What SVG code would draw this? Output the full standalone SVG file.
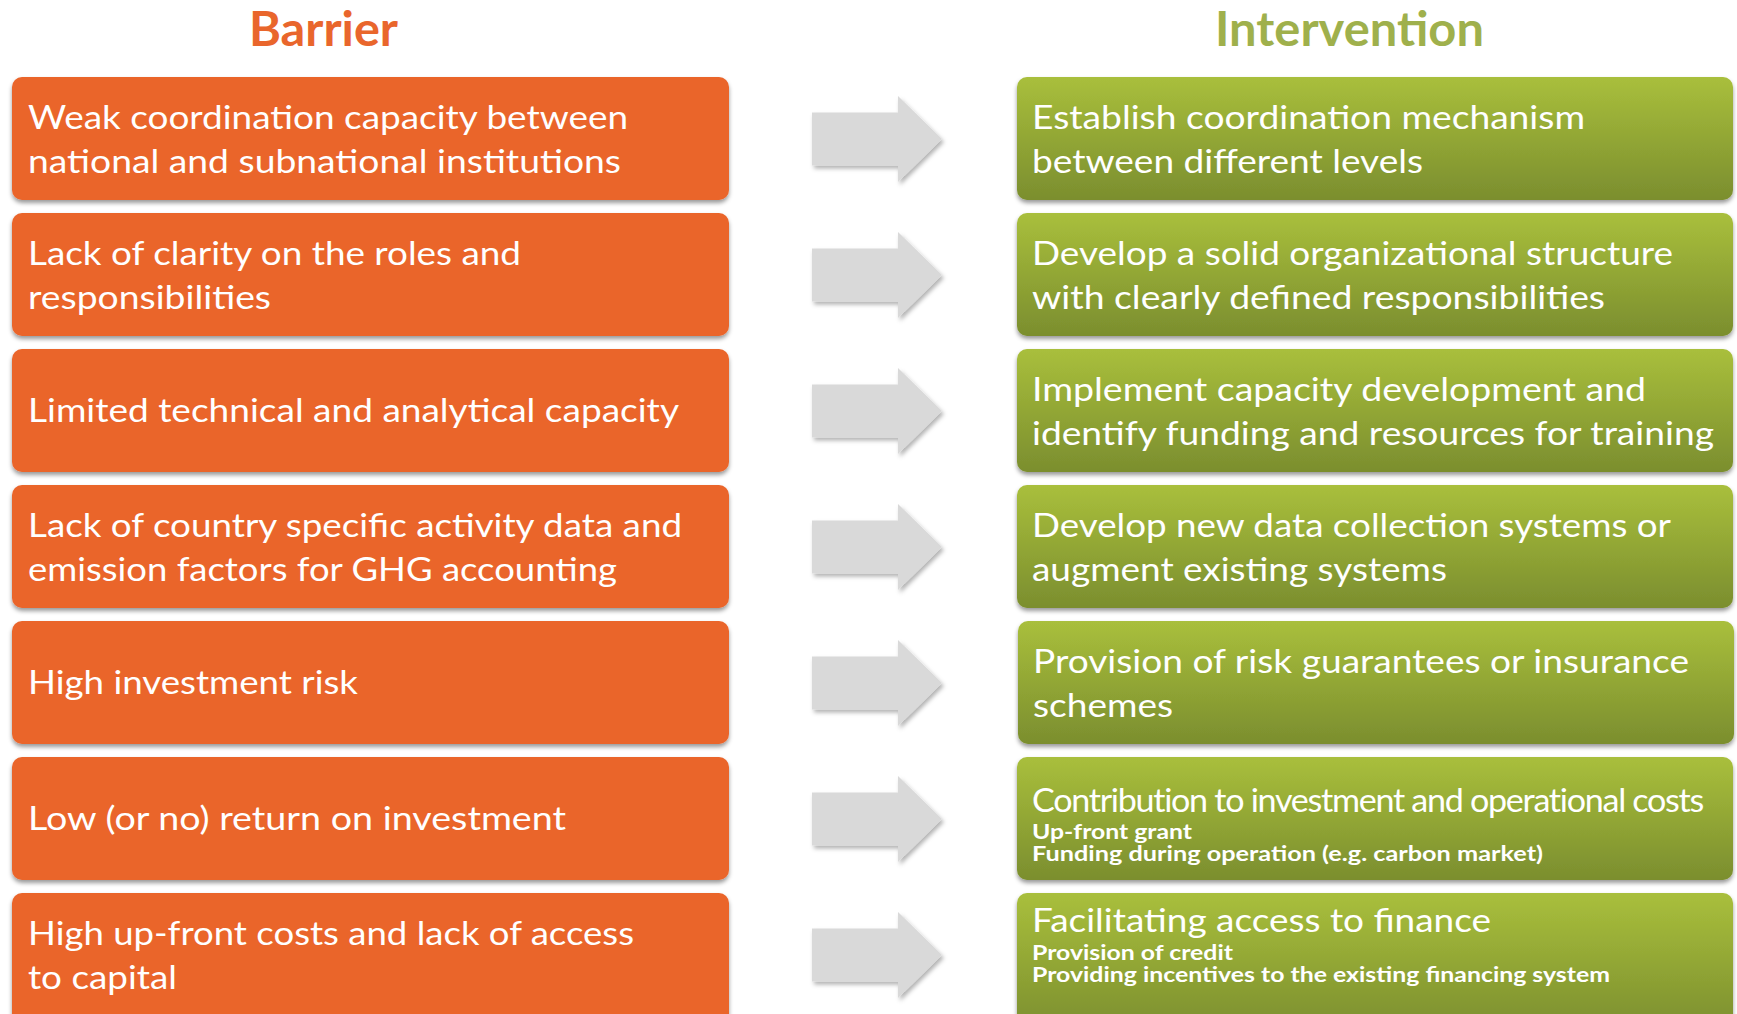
<svg xmlns="http://www.w3.org/2000/svg" width="1737" height="1014" viewBox="0 0 1737 1014">
<style>
.t{font-family:Lato,"Open Sans","Liberation Sans",sans-serif;font-size:33px;fill:#fff}
.c{font-family:Lato,"Open Sans","Liberation Sans",sans-serif;font-size:32px;letter-spacing:-1.2px;fill:#fff}
.s{font-family:Lato,"Open Sans","Liberation Sans",sans-serif;font-size:20px;font-weight:bold;fill:#fff}
.h{font-family:Lato,"Open Sans","Liberation Sans",sans-serif;font-size:47px;font-weight:bold;text-anchor:middle}
.ob{fill:#EA652B;filter:url(#sh)}
.gb{fill:url(#gg);filter:url(#sh)}
.ar{fill:#D9D9D9;filter:url(#ash)}
</style>
<defs>
<linearGradient id="gg" x1="0" y1="0" x2="0" y2="1">
<stop offset="0" stop-color="#A9BF3C"/>
<stop offset="1" stop-color="#7B8E2E"/>
</linearGradient>
<filter id="sh" x="-5%" y="-10%" width="110%" height="125%">
<feDropShadow dx="0" dy="3" stdDeviation="2.2" flood-color="#000" flood-opacity="0.4"/>
</filter>
<filter id="ash" x="-10%" y="-10%" width="125%" height="130%">
<feDropShadow dx="2" dy="3" stdDeviation="2" flood-color="#000" flood-opacity="0.3"/>
</filter>
<polygon id="arrow" points="812,-26.5 898,-26.5 898,-43 942,0 898,43 898,26.5 812,26.5"/>
</defs>
<rect width="1737" height="1014" fill="#fff"/>

<text class="h" x="323.5" y="46" fill="#E9662C" textLength="149" lengthAdjust="spacingAndGlyphs">Barrier</text>
<text class="h" x="1349.5" y="46" fill="#9FB04C" textLength="269" lengthAdjust="spacingAndGlyphs">Intervention</text>

<g id="connectors">
<use href="#arrow" class="ar" y="139"/>
<use href="#arrow" class="ar" y="275"/>
<use href="#arrow" class="ar" y="411"/>
<use href="#arrow" class="ar" y="547"/>
<use href="#arrow" class="ar" y="683"/>
<use href="#arrow" class="ar" y="819"/>
<use href="#arrow" class="ar" y="955"/>
</g>

<g id="barrier1"><rect class="ob" x="12" y="77" width="717" height="123" rx="10"/>
<text class="t" x="28" y="129" textLength="600" lengthAdjust="spacingAndGlyphs">Weak coordination capacity between</text>
<text class="t" x="28" y="172.5" textLength="593" lengthAdjust="spacingAndGlyphs">national and subnational institutions</text></g>

<g id="barrier2"><rect class="ob" x="12" y="213" width="717" height="123" rx="10"/>
<text class="t" x="28" y="265" textLength="493" lengthAdjust="spacingAndGlyphs">Lack of clarity on the roles and</text>
<text class="t" x="28" y="308.5" textLength="243" lengthAdjust="spacingAndGlyphs">responsibilities</text></g>

<g id="barrier3"><rect class="ob" x="12" y="349" width="717" height="123" rx="10"/>
<text class="t" x="28" y="422" textLength="651" lengthAdjust="spacingAndGlyphs">Limited technical and analytical capacity</text></g>

<g id="barrier4"><rect class="ob" x="12" y="485" width="717" height="123" rx="10"/>
<text class="t" x="28" y="537" textLength="654" lengthAdjust="spacingAndGlyphs">Lack of country specific activity data and</text>
<text class="t" x="28" y="580.5" textLength="589" lengthAdjust="spacingAndGlyphs">emission factors for GHG accounting</text></g>

<g id="barrier5"><rect class="ob" x="12" y="621" width="717" height="123" rx="10"/>
<text class="t" x="28" y="694" textLength="330" lengthAdjust="spacingAndGlyphs">High investment risk</text></g>

<g id="barrier6"><rect class="ob" x="12" y="757" width="717" height="123" rx="10"/>
<text class="t" x="28" y="830" textLength="538" lengthAdjust="spacingAndGlyphs">Low (or no) return on investment</text></g>

<g id="barrier7"><rect class="ob" x="12" y="893" width="717" height="140" rx="10"/>
<text class="t" x="28" y="945" textLength="606" lengthAdjust="spacingAndGlyphs">High up-front costs and lack of access</text>
<text class="t" x="28" y="988.5" textLength="149" lengthAdjust="spacingAndGlyphs">to capital</text></g>

<g id="intervention1"><rect class="gb" x="1017" y="77" width="716" height="123" rx="10"/>
<text class="t" x="1032" y="129" textLength="553" lengthAdjust="spacingAndGlyphs">Establish coordination mechanism</text>
<text class="t" x="1032" y="172.5" textLength="391" lengthAdjust="spacingAndGlyphs">between different levels</text></g>

<g id="intervention2"><rect class="gb" x="1017" y="213" width="716" height="123" rx="10"/>
<text class="t" x="1032" y="265" textLength="641" lengthAdjust="spacingAndGlyphs">Develop a solid organizational structure</text>
<text class="t" x="1032" y="308.5" textLength="573" lengthAdjust="spacingAndGlyphs">with clearly defined responsibilities</text></g>

<g id="intervention3"><rect class="gb" x="1017" y="349" width="716" height="123" rx="10"/>
<text class="t" x="1032" y="401" textLength="614" lengthAdjust="spacingAndGlyphs">Implement capacity development and</text>
<text class="t" x="1032" y="444.5" textLength="682" lengthAdjust="spacingAndGlyphs">identify funding and resources for training</text></g>

<g id="intervention4"><rect class="gb" x="1017" y="485" width="716" height="123" rx="10"/>
<text class="t" x="1032" y="537" textLength="639" lengthAdjust="spacingAndGlyphs">Develop new data collection systems or</text>
<text class="t" x="1032" y="580.5" textLength="415" lengthAdjust="spacingAndGlyphs">augment existing systems</text></g>

<g id="intervention5"><rect class="gb" x="1018" y="621" width="716" height="123" rx="10"/>
<text class="t" x="1033" y="673" textLength="656" lengthAdjust="spacingAndGlyphs">Provision of risk guarantees or insurance</text>
<text class="t" x="1033" y="716.5" textLength="140" lengthAdjust="spacingAndGlyphs">schemes</text></g>

<g id="intervention6"><rect class="gb" x="1017" y="757" width="716" height="123" rx="10"/>
<text class="c" x="1032" y="812" textLength="671" lengthAdjust="spacingAndGlyphs">Contribution to investment and operational costs</text>
<text class="s" x="1032" y="839" textLength="160" lengthAdjust="spacingAndGlyphs">Up-front grant</text>
<text class="s" x="1032" y="861" textLength="511" lengthAdjust="spacingAndGlyphs">Funding during operation (e.g. carbon market)</text></g>

<g id="intervention7"><rect class="gb" x="1017" y="893" width="716" height="140" rx="10"/>
<text class="t" x="1032" y="932" textLength="459" lengthAdjust="spacingAndGlyphs">Facilitating access to finance</text>
<text class="s" x="1032" y="960" textLength="201" lengthAdjust="spacingAndGlyphs">Provision of credit</text>
<text class="s" x="1032" y="982" textLength="578" lengthAdjust="spacingAndGlyphs">Providing incentives to the existing financing system</text></g>
</svg>
